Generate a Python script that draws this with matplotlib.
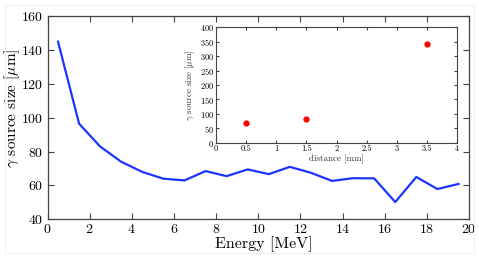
import matplotlib
matplotlib.use("Agg")
import matplotlib.pyplot as plt
import numpy as np

plt.rcParams['font.family'] = 'cmr10'
plt.rcParams['mathtext.fontset'] = 'cm'
plt.rcParams['axes.formatter.use_mathtext'] = True

energy = [0.5, 1.5, 2.5, 3.5, 4.5, 5.5, 6.5, 7.5, 8.5, 9.5, 10.5, 11.5, 12.5,
          13.5, 14.5, 15.5, 16.5, 17.5, 18.5, 19.5]
size = [145, 96.5, 83, 74, 68, 64, 63, 68.5, 65.5, 69.5, 66.7, 71, 67.5,
        62.7, 64.3, 64.2, 50.2, 65, 57.9, 60.9]

distance = [0.5, 1.5, 3.5]
inset_size = [68, 82, 341]

fig = plt.figure(figsize=(4.79, 2.65), dpi=100)
W, H = 479, 265

def rect(l, t, r, b):
    return [l / W, 1 - b / H, (r - l) / W, (b - t) / H]

ax = fig.add_axes(rect(47.5, 16.3, 469, 219.3))
ax.plot(energy, size, color='#1a35ff', lw=1.6)
ax.set_xlim(0, 20)
ax.set_ylim(40, 160)
ax.set_xticks(np.arange(0, 21, 2))
ax.set_yticks(np.arange(40, 161, 20))
ax.tick_params(direction='in', top=True, right=True, labelsize=10, length=4,
               color='#444444', pad=3)
for s in ax.spines.values():
    s.set_color('#444444')
    s.set_linewidth(0.9)
ax.set_xlabel('Energy [MeV]', fontsize=11.5)
ax.xaxis.set_label_coords((264 - 47.5) / (469 - 47.5), -(236 - 219.3) / 203)
ax.set_ylabel(r'$\gamma$ source size [$\mu$m]', fontsize=11)
ax.yaxis.set_label_coords(-(47.5 - 22) / 421.5, (219.3 - 108) / 203)

ins = fig.add_axes(rect(216, 27.3, 457, 142.7))
ins.plot(distance, inset_size, 'o', color='#ff0000', ms=3.5)
ins.set_xlim(0, 4)
ins.set_ylim(0, 400)
ins.set_xticks(np.arange(0, 4.01, 0.5))
ins.set_xticklabels(['0', '0.5', '1', '1.5', '2', '2.5', '3', '3.5', '4'])
ins.set_yticks(np.arange(0, 401, 50))
ins.tick_params(direction='in', top=True, right=True, labelsize=6, length=2.5,
                color='#444444', pad=1.5)
for s in ins.spines.values():
    s.set_color('#444444')
    s.set_linewidth(0.8)
ins.set_xlabel('distance [mm]', fontsize=6.5, labelpad=1, color='#333333')
ins.set_ylabel(r'$\gamma$ source size [$\mu$m]', fontsize=6.5, labelpad=2, color='#333333')

fig.patches.append(plt.Rectangle((5 / W, 1 - 253 / H), 469 / W, 248 / H,
                                 transform=fig.transFigure, fill=False,
                                 edgecolor='#eeeeee', lw=0.8))

fig.savefig('out.png', dpi=100)
